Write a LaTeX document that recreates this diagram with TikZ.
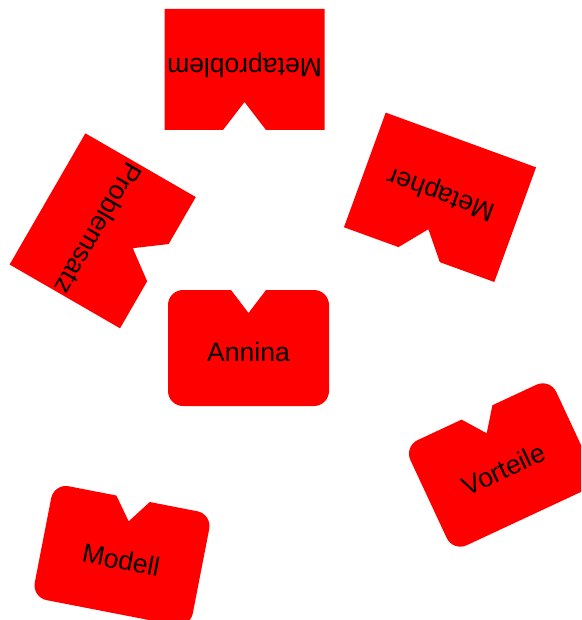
\documentclass[tikz,border=0pt]{standalone}
\usepackage{fontspec}
\setmainfont{Liberation Sans}
\tikzset{
  piecefill/.style={fill=red},
  piecelabel/.style={transform shape, inner sep=0pt, font=\fontsize{26.5}{30}\selectfont, text=black}
}
\newcommand{\puzzlepiece}[9]{%
  \begin{scope}[shift={(#2,#3)},rotate=#4]
    \fill[piecefill] (0,{-#6/2}) -- ({#5/2-#7},{-#6/2}) arc[start angle=-90,end angle=0,radius=#7pt]
      -- ({#5/2},{#6/2-#7}) arc[start angle=0,end angle=90,radius=#7pt]
      -- ({#8/2},{#6/2}) -- (0,{#6/2-#9}) -- ({-#8/2},{#6/2})
      -- ({-#5/2+#7},{#6/2}) arc[start angle=90,end angle=180,radius=#7pt]
      -- ({-#5/2},{-#6/2+#7}) arc[start angle=180,end angle=270,radius=#7pt] -- cycle;
    \node[piecelabel] (#1) at (0,-4.5) {#1};
  \end{scope}}
\begin{document}
\begin{tikzpicture}[x=1pt,y=1pt]
  \useasboundingbox (0,0) rectangle (581,-620);
  \fill[white] (0,0) rectangle (581,-620);
  \clip (0,0) rectangle (581,-620);
  \puzzlepiece{Annina}{248.5}{-348}{0}{161}{116}{15}{35}{23}
  \puzzlepiece{Metaproblem}{244.5}{-69.5}{180}{160}{121}{0.01}{43}{28}
  \puzzlepiece{Problemsatz}{102.7}{-230.8}{-120}{151.5}{127.5}{0.01}{43}{29}
  \puzzlepiece{Metapher}{440}{-197.3}{160}{160}{122}{0.01}{44}{27}
  \puzzlepiece{Vorteile}{501.5}{-465}{25}{161}{116}{15}{34}{23}
  \puzzlepiece{Modell}{122}{-555.7}{-11}{161}{116}{15}{34}{23}
\end{tikzpicture}
\end{document}
